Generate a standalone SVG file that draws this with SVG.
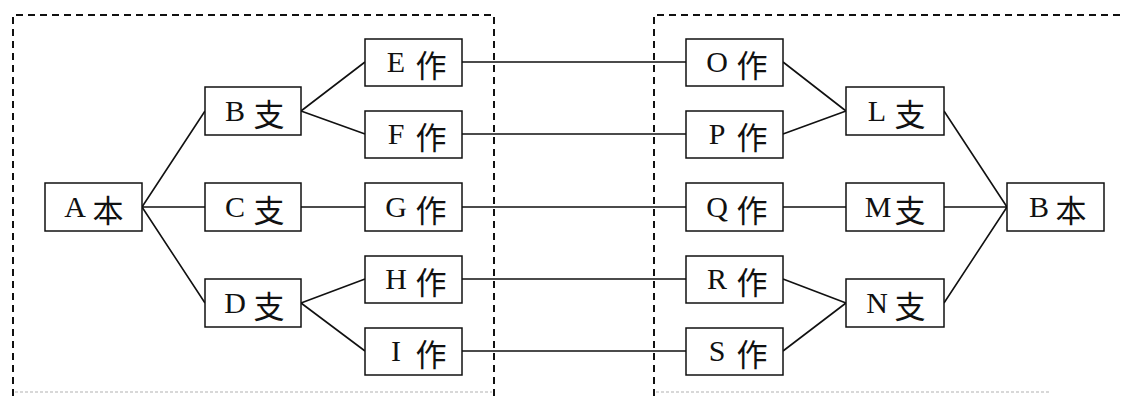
<svg xmlns="http://www.w3.org/2000/svg" width="1125" height="396" viewBox="0 0 1125 396">
<style>
.box{fill:#fff;stroke:#111;stroke-width:1.5}
.lat{font-family:"Liberation Serif","Times New Roman",serif;font-size:30px;fill:#111;text-anchor:middle}
.cjk{font-family:"Noto Sans CJK SC","Noto Sans CJK JP",sans-serif;font-size:31px;fill:#111;text-anchor:middle;dominant-baseline:central}
.ln{stroke:#111;stroke-width:1.6;fill:none}
.dash{stroke:#111;stroke-width:2;fill:none;stroke-dasharray:7 5}
.faint{stroke:#ccc;stroke-width:1.5;fill:none;stroke-dasharray:3 2}
</style>
<rect width="1125" height="396" fill="#fff"/>
<g id="frames">
<path class="dash" d="M13,396 V15 H494 V396"/>
<path class="dash" d="M654,396 V15 H1122"/>
<path class="faint" d="M15,392 H492 M656,392 H1050"/>
</g>
<g id="connectors">
<path class="ln" d="M142,207 L205,111 M142,207 H205 M142,207 L205,303"/>
<path class="ln" d="M301,111 L365,62 M301,111 L365,134 M301,207 H365 M301,303 L365,279 M301,303 L365,351"/>
<path class="ln" d="M462,62 H686 M462,134 H686 M462,207 H686 M462,279 H686 M462,351 H686"/>
<path class="ln" d="M783,62 L846,111 M783,134 L846,111 M783,207 H846 M783,279 L846,303 M783,351 L846,303"/>
<path class="ln" d="M944,111 L1007,207 M944,207 H1007 M944,303 L1007,207"/>
</g>
<g id="nA"><rect class="box" x="45" y="183" width="97" height="48"/><text class="lat" x="75" y="217">A</text><text class="cjk" x="108" y="208.5">本</text></g>
<g id="nB"><rect class="box" x="205" y="87" width="96" height="48"/><text class="lat" x="235" y="121">B</text><text class="cjk" x="269" y="112.5">支</text></g>
<g id="nC"><rect class="box" x="205" y="183" width="96" height="48"/><text class="lat" x="235" y="217">C</text><text class="cjk" x="269" y="208.5">支</text></g>
<g id="nD"><rect class="box" x="205" y="279" width="96" height="48"/><text class="lat" x="235" y="313">D</text><text class="cjk" x="269" y="304.5">支</text></g>
<g id="nE"><rect class="box" x="365" y="39" width="97" height="47"/><text class="lat" x="396" y="72">E</text><text class="cjk" x="431" y="63.5">作</text></g>
<g id="nF"><rect class="box" x="365" y="111" width="97" height="47"/><text class="lat" x="396" y="144">F</text><text class="cjk" x="431" y="135.5">作</text></g>
<g id="nG"><rect class="box" x="365" y="183" width="97" height="48"/><text class="lat" x="396" y="217">G</text><text class="cjk" x="431" y="208.5">作</text></g>
<g id="nH"><rect class="box" x="365" y="256" width="97" height="47"/><text class="lat" x="396" y="289">H</text><text class="cjk" x="431" y="280.5">作</text></g>
<g id="nI"><rect class="box" x="365" y="328" width="97" height="47"/><text class="lat" x="396" y="361">I</text><text class="cjk" x="431" y="352.5">作</text></g>
<g id="nO"><rect class="box" x="686" y="39" width="97" height="47"/><text class="lat" x="717" y="72">O</text><text class="cjk" x="752" y="63.5">作</text></g>
<g id="nP"><rect class="box" x="686" y="111" width="97" height="47"/><text class="lat" x="717" y="144">P</text><text class="cjk" x="752" y="135.5">作</text></g>
<g id="nQ"><rect class="box" x="686" y="183" width="97" height="48"/><text class="lat" x="717" y="217">Q</text><text class="cjk" x="752" y="208.5">作</text></g>
<g id="nR"><rect class="box" x="686" y="256" width="97" height="47"/><text class="lat" x="717" y="289">R</text><text class="cjk" x="752" y="280.5">作</text></g>
<g id="nS"><rect class="box" x="686" y="328" width="97" height="47"/><text class="lat" x="717" y="361">S</text><text class="cjk" x="752" y="352.5">作</text></g>
<g id="nL"><rect class="box" x="846" y="87" width="98" height="48"/><text class="lat" x="877" y="121">L</text><text class="cjk" x="910" y="112.5">支</text></g>
<g id="nM"><rect class="box" x="846" y="183" width="98" height="48"/><text class="lat" x="878" y="217">M</text><text class="cjk" x="910" y="208.5">支</text></g>
<g id="nN"><rect class="box" x="846" y="279" width="98" height="48"/><text class="lat" x="877" y="313">N</text><text class="cjk" x="910" y="304.5">支</text></g>
<g id="nB2"><rect class="box" x="1007" y="183" width="97" height="48"/><text class="lat" x="1039" y="217">B</text><text class="cjk" x="1071" y="208.5">本</text></g>
</svg>
